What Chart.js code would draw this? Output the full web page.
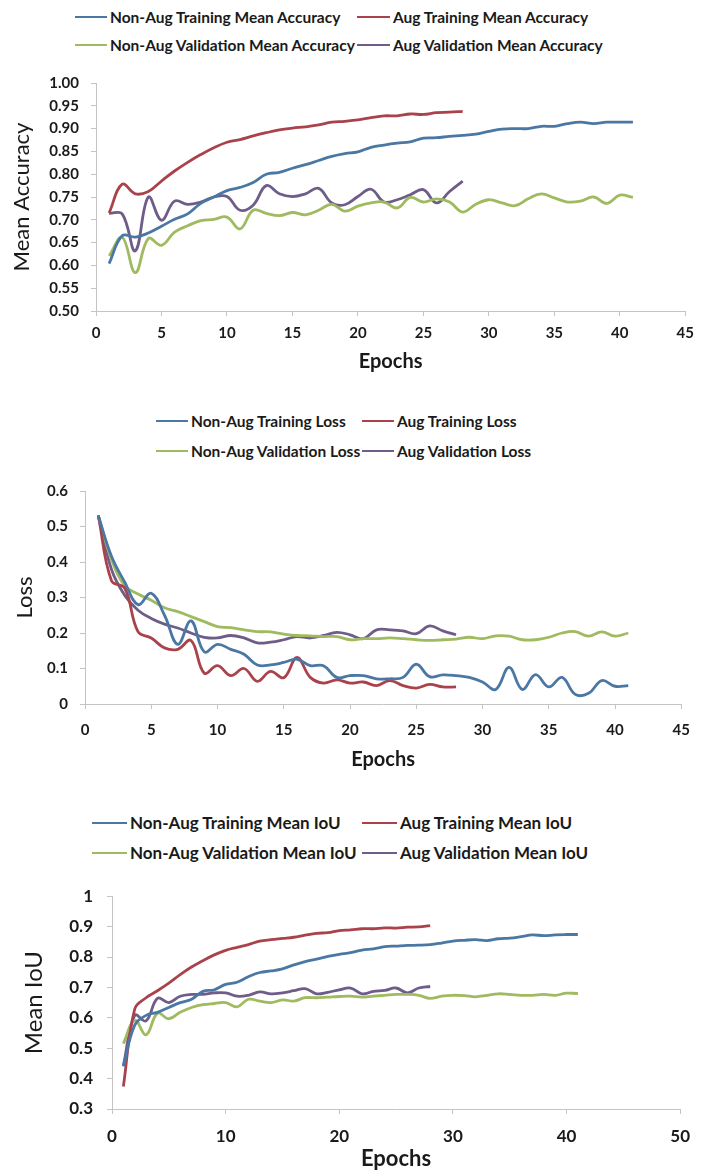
<!DOCTYPE html>
<html lang="en">
<head>
  <meta charset="UTF-8">
  <title>Training curves</title>
  <script src="https://cdn.jsdelivr.net/npm/chart.js"></script>
  <style>
    * { margin: 0; padding: 0; box-sizing: border-box; }
    body { background: #fff; width: 702px; height: 1173px; position: relative; overflow: hidden; font-family: Lato, 'Open Sans', sans-serif; }
    canvas { position: absolute; left: 0; }
    .leg { position: absolute; display: flex; align-items: center; font-weight: bold; color: #1a1a1a; white-space: nowrap; }
    .leg span.ln { display: inline-block; height: 2px; margin-right: 3px; }
  </style>
</head>
<body>
  <!-- legends -->
  <div class="leg" style="left:75px;top:8px;font-size:15.5px"><span class="ln" style="width:32px;background:#4a77a3"></span>Non-Aug Training Mean Accuracy</div>
  <div class="leg" style="left:357px;top:8px;font-size:15.5px"><span class="ln" style="width:33px;background:#aa424c"></span>Aug Training Mean Accuracy</div>
  <div class="leg" style="left:75px;top:36px;font-size:15.5px"><span class="ln" style="width:32px;background:#9fba5f"></span>Non-Aug Validation Mean Accuracy</div>
  <div class="leg" style="left:357px;top:36px;font-size:15.5px"><span class="ln" style="width:33px;background:#6e5c89"></span>Aug Validation Mean Accuracy</div>

  <div class="leg" style="left:156px;top:412px;font-size:15.5px"><span class="ln" style="width:32px;background:#4a77a3"></span>Non-Aug Training Loss</div>
  <div class="leg" style="left:362px;top:412px;font-size:15.5px"><span class="ln" style="width:32px;background:#aa424c"></span>Aug Training Loss</div>
  <div class="leg" style="left:156px;top:442px;font-size:15.5px"><span class="ln" style="width:32px;background:#9fba5f"></span>Non-Aug Validation Loss</div>
  <div class="leg" style="left:362px;top:442px;font-size:15.5px"><span class="ln" style="width:32px;background:#6e5c89"></span>Aug Validation Loss</div>

  <div class="leg" style="left:92px;top:812px;font-size:17px"><span class="ln" style="width:35px;background:#4a77a3"></span>Non-Aug Training Mean IoU</div>
  <div class="leg" style="left:362px;top:812px;font-size:17px"><span class="ln" style="width:35px;background:#aa424c"></span>Aug Training Mean IoU</div>
  <div class="leg" style="left:92px;top:842px;font-size:17px"><span class="ln" style="width:35px;background:#9fba5f"></span>Non-Aug Validation Mean IoU</div>
  <div class="leg" style="left:362px;top:842px;font-size:17px"><span class="ln" style="width:35px;background:#6e5c89"></span>Aug Validation Mean IoU</div>

  <canvas id="accChart" width="702" height="320" style="top:62px"></canvas>
  <canvas id="lossChart" width="702" height="310" style="top:470px"></canvas>
  <canvas id="iouChart" width="702" height="301" style="top:872px"></canvas>

  <script>
    // epochs
    const epochsNonAug = [1,2,3,4,5,6,7,8,9,10,11,12,13,14,15,16,17,18,19,20,21,22,23,24,25,26,27,28,29,30,31,32,33,34,35,36,37,38,39,40,41];
    const epochsAug = [1,2,3,4,5,6,7,8,9,10,11,12,13,14,15,16,17,18,19,20,21,22,23,24,25,26,27,28];

    // mean accuracy
    const accNonAugTrain = [0.604,0.665,0.662,0.671,0.686,0.701,0.713,0.736,0.750,0.764,0.771,0.782,0.800,0.804,0.813,0.821,0.830,0.839,0.845,0.849,0.859,0.864,0.868,0.871,0.879,0.880,0.883,0.885,0.888,0.894,0.899,0.900,0.900,0.905,0.905,0.911,0.914,0.911,0.914,0.914,0.914];
    const accAugTrain = [0.715,0.778,0.757,0.762,0.785,0.807,0.826,0.843,0.858,0.870,0.876,0.884,0.891,0.897,0.901,0.904,0.908,0.914,0.916,0.919,0.924,0.928,0.928,0.932,0.931,0.935,0.936,0.938];
    const accNonAugVal = [0.621,0.662,0.584,0.659,0.644,0.673,0.687,0.698,0.701,0.706,0.680,0.721,0.714,0.709,0.716,0.711,0.721,0.734,0.719,0.730,0.737,0.739,0.726,0.749,0.739,0.746,0.739,0.717,0.734,0.744,0.737,0.731,0.746,0.757,0.748,0.739,0.741,0.750,0.736,0.754,0.749];
    const accAugVal = [0.714,0.713,0.632,0.750,0.699,0.741,0.734,0.739,0.750,0.751,0.721,0.732,0.775,0.757,0.751,0.757,0.769,0.737,0.733,0.751,0.767,0.739,0.744,0.755,0.766,0.737,0.762,0.785];

    // loss
    const lossNonAugTrain = [0.531,0.416,0.343,0.280,0.312,0.250,0.168,0.234,0.147,0.168,0.154,0.140,0.110,0.110,0.117,0.126,0.108,0.108,0.075,0.080,0.080,0.071,0.071,0.075,0.112,0.077,0.082,0.080,0.075,0.062,0.041,0.103,0.041,0.083,0.048,0.075,0.027,0.030,0.066,0.050,0.052];
    const lossAugTrain = [0.531,0.347,0.326,0.204,0.186,0.158,0.154,0.179,0.087,0.108,0.080,0.100,0.064,0.092,0.074,0.131,0.075,0.059,0.068,0.059,0.062,0.052,0.066,0.052,0.045,0.055,0.048,0.048];
    const lossNonAugVal = [0.531,0.407,0.333,0.310,0.292,0.271,0.260,0.246,0.232,0.218,0.215,0.209,0.204,0.203,0.197,0.193,0.192,0.190,0.190,0.181,0.184,0.184,0.186,0.184,0.181,0.179,0.181,0.183,0.188,0.184,0.192,0.191,0.181,0.181,0.188,0.200,0.204,0.191,0.203,0.191,0.200];
    const lossAugVal = [0.531,0.379,0.306,0.264,0.241,0.225,0.214,0.200,0.188,0.186,0.193,0.186,0.172,0.174,0.181,0.190,0.186,0.193,0.202,0.195,0.184,0.209,0.209,0.206,0.198,0.220,0.206,0.195];

    // mean IoU
    const iouNonAugTrain = [0.440,0.576,0.608,0.618,0.634,0.650,0.661,0.687,0.692,0.710,0.717,0.735,0.749,0.754,0.761,0.774,0.785,0.793,0.802,0.809,0.814,0.823,0.827,0.834,0.836,0.838,0.839,0.841,0.846,0.852,0.855,0.857,0.854,0.860,0.862,0.867,0.873,0.870,0.873,0.874,0.874];
    const iouAugTrain = [0.374,0.629,0.666,0.689,0.714,0.742,0.767,0.788,0.807,0.822,0.832,0.841,0.852,0.857,0.861,0.865,0.872,0.878,0.880,0.887,0.889,0.893,0.893,0.896,0.895,0.898,0.899,0.903];
    const iouNonAugVal = [0.515,0.592,0.544,0.615,0.597,0.618,0.634,0.643,0.647,0.650,0.636,0.661,0.655,0.650,0.659,0.655,0.666,0.666,0.668,0.670,0.671,0.668,0.671,0.674,0.677,0.677,0.674,0.664,0.671,0.674,0.673,0.669,0.674,0.679,0.677,0.674,0.674,0.677,0.674,0.681,0.680];
    const iouAugVal = [0.443,0.608,0.590,0.664,0.650,0.671,0.677,0.677,0.682,0.682,0.671,0.674,0.685,0.679,0.682,0.689,0.696,0.679,0.684,0.692,0.698,0.679,0.687,0.690,0.698,0.682,0.698,0.703];

    const colors = { nonAugTrain: '#4a77a3', augTrain: '#aa424c', nonAugVal: '#9fba5f', augVal: '#6e5c89' };
    const axisGray = '#c4c4c4';

    Chart.defaults.font.family = "Lato, 'Open Sans', sans-serif";
    Chart.defaults.color = '#1a1a1a';

    function pts(xs, ys) {
      return ys.map((y, i) => ({ x: xs[i], y: y }));
    }

    function series(label, xs, ys, color) {
      return {
        label: label,
        data: pts(xs, ys),
        borderColor: color,
        backgroundColor: color,
        borderWidth: 2.8,
        pointRadius: 0,
        tension: 0.4,
        fill: false
      };
    }

    function makeChart(id, cfg) {
      return new Chart(document.getElementById(id), {
        type: 'line',
        data: { datasets: cfg.datasets },
        options: {
          responsive: false,
          animation: false,
          layout: { padding: { top: cfg.padTop, right: cfg.padRight, left: 0, bottom: 0 } },
          plugins: { legend: { display: false }, tooltip: { enabled: false } },
          scales: {
            x: {
              type: 'linear',
              min: cfg.xMin, max: cfg.xMax,
              ticks: { stepSize: cfg.xStep, padding: cfg.xTickPad, font: { size: cfg.tickSize, weight: 'bold' }, maxRotation: 0 },
              grid: { drawOnChartArea: false, drawTicks: true, tickLength: 5, color: axisGray },
              border: { display: true, color: axisGray },
              title: { display: true, text: 'Epochs', font: { size: cfg.xTitleSize, weight: 'bold' }, padding: { top: 0, bottom: cfg.xTitlePad } },
              afterFit: s => { s.height = cfg.xHeight; }
            },
            y: {
              min: cfg.yMin, max: cfg.yMax,
              ticks: { stepSize: cfg.yStep, padding: cfg.yTickPad, font: { size: cfg.tickSize, weight: 'bold' }, callback: cfg.yFmt },
              grid: { drawOnChartArea: false, drawTicks: true, tickLength: 5, color: axisGray },
              border: { display: true, color: axisGray },
              title: { display: true, text: cfg.yTitle, font: { size: cfg.yTitleSize }, padding: { top: cfg.yTitlePad, bottom: 0 } },
              afterFit: s => { s.width = cfg.yWidth; }
            }
          }
        }
      });
    }

    makeChart('accChart', {
      datasets: [
        series('Non-Aug Training Mean Accuracy', epochsNonAug, accNonAugTrain, colors.nonAugTrain),
        series('Aug Training Mean Accuracy', epochsAug, accAugTrain, colors.augTrain),
        series('Non-Aug Validation Mean Accuracy', epochsNonAug, accNonAugVal, colors.nonAugVal),
        series('Aug Validation Mean Accuracy', epochsAug, accAugVal, colors.augVal)
      ],
      padTop: 15, padRight: 10,
      xMin: 0, xMax: 45, xStep: 5, xTickPad: 8, xHeight: 71, xTitleSize: 20, xTitlePad: 8,
      yMin: 0.5, yMax: 1.0, yStep: 0.05, yTickPad: 12, yWidth: 96,
      yTitle: 'Mean Accuracy', yTitleSize: 22, yTitlePad: 9, tickSize: 15,
      yFmt: v => v.toFixed(2)
    });

    makeChart('lossChart', {
      datasets: [
        series('Non-Aug Training Loss', epochsNonAug, lossNonAugTrain, colors.nonAugTrain),
        series('Aug Training Loss', epochsAug, lossAugTrain, colors.augTrain),
        series('Non-Aug Validation Loss', epochsNonAug, lossNonAugVal, colors.nonAugVal),
        series('Aug Validation Loss', epochsAug, lossAugVal, colors.augVal)
      ],
      padTop: 17, padRight: 10,
      xMin: 0, xMax: 45, xStep: 5, xTickPad: 12, xHeight: 76, xTitleSize: 20, xTitlePad: 8,
      yMin: 0, yMax: 0.6, yStep: 0.1, yTickPad: 12, yWidth: 85,
      yTitle: 'Loss', yTitleSize: 22, yTitlePad: 12, tickSize: 15,
      yFmt: v => (Math.round(v * 10) / 10).toString()
    });

    makeChart('iouChart', {
      datasets: [
        series('Non-Aug Training Mean IoU', epochsNonAug, iouNonAugTrain, colors.nonAugTrain),
        series('Aug Training Mean IoU', epochsAug, iouAugTrain, colors.augTrain),
        series('Non-Aug Validation Mean IoU', epochsNonAug, iouNonAugVal, colors.nonAugVal),
        series('Aug Validation Mean IoU', epochsAug, iouAugVal, colors.augVal)
      ],
      padTop: 16, padRight: 11,
      xMin: 0, xMax: 50, xStep: 10, xTickPad: 12, xHeight: 64, xTitleSize: 22, xTitlePad: 1,
      yMin: 0.3, yMax: 1.0, yStep: 0.1, yTickPad: 14, yWidth: 112,
      yTitle: 'Mean IoU', yTitleSize: 24, yTitlePad: 20, tickSize: 17,
      yFmt: v => (Math.round(v * 10) / 10).toString()
    });
  </script>
</body>
</html>
